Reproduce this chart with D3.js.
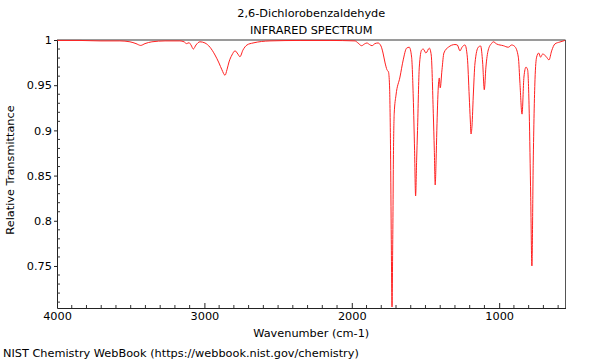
<!DOCTYPE html>
<html>
<head>
<meta charset="utf-8">
<script src="https://cdn.jsdelivr.net/npm/d3@7"></script>
<style>
  html, body { margin: 0; padding: 0; background: #fff; }
  svg { display: block; font-family: "DejaVu Sans", sans-serif; }
</style>
</head>
<body>
<svg id="chart" width="600" height="360"></svg>
<script>
// Wavenumber (cm-1)
const wavenumbers = [4000,3844,3708,3573,3505,3464,3432,3403,3356,3267,3166,3138,3121,3104,3091,3075,3057,3030,2996,2962,2928,2901,2881,2860,2847,2833,2813,2792,2773,2759,2738,2711,2670,2555,2351,2148,1978,1958,1933,1914,1897,1880,1863,1843,1822,1802,1788,1774,1761,1751,1744,1737,1732,1727,1722,1717,1712,1700,1673,1651,1628,1610,1594,1583,1574,1567,1560,1554,1542,1526,1515,1497,1474,1461,1447,1440,1434,1428,1423,1413,1406,1400,1388,1375,1345,1300,1284,1266,1252,1232,1216,1203,1196,1191,1184,1176,1164,1142,1126,1112,1101,1090,1074,1051,1040,1017,972,938,915,893,870,859,845,832,818,807,796,786,778,769,757,746,732,719,705,683,662,644,622,588,554];
// Relative transmittance at each wavenumber
const transmittance = [0.9995,0.9995,0.999,0.999,0.998,0.996,0.994,0.996,0.998,0.999,0.999,0.998,0.996,0.997,0.9945,0.990,0.9945,0.998,0.9967,0.992,0.9834,0.9746,0.967,0.961,0.967,0.9757,0.9834,0.988,0.9845,0.9815,0.989,0.9945,0.9967,0.999,0.9995,0.9995,0.999,0.9967,0.9937,0.9956,0.9967,0.995,0.9937,0.996,0.9967,0.9934,0.9856,0.9746,0.967,0.9646,0.950,0.878,0.779,0.7046,0.779,0.878,0.919,0.939,0.959,0.978,0.991,0.992,0.981,0.937,0.878,0.8274,0.867,0.900,0.970,0.989,0.990,0.9856,0.991,0.9834,0.919,0.878,0.8396,0.867,0.900,0.948,0.958,0.947,0.967,0.9856,0.992,0.995,0.9945,0.988,0.992,0.9945,0.981,0.937,0.9115,0.896,0.906,0.937,0.9746,0.992,0.9934,0.9746,0.945,0.970,0.989,0.9963,0.998,0.9956,0.9937,0.992,0.9945,0.9926,0.981,0.952,0.918,0.959,0.970,0.967,0.919,0.826,0.750,0.864,0.956,0.981,0.9856,0.981,0.9845,0.982,0.978,0.988,0.9956,0.9978,0.9995];

const xMajorTicks = [4000, 3000, 2000, 1000];
const yMajorTicks = [0.75, 0.8, 0.85, 0.9, 0.95, 1];

const titleLines = ["2,6-Dichlorobenzaldehyde", "INFRARED SPECTRUM"];
const xLabel = "Wavenumber (cm-1)";
const yLabel = "Relative Transmittance";
const footer = "NIST Chemistry WebBook (https://webbook.nist.gov/chemistry)";

const FS = 11.3;
const svg = d3.select("#chart");
const mLeft = 57, mRight = 565.5, mTop = 40, mBottom = 308;

const x = d3.scaleLinear().domain([4000, 550]).range([mLeft, mRight]);
const y = d3.scaleLinear().domain([0.7035, 1]).range([mBottom, mTop]);

const data = wavenumbers.map((w, i) => ({ w, t: transmittance[i] }));

svg.append("clipPath").attr("id", "clip")
  .append("rect").attr("x", mLeft).attr("y", mTop - 1).attr("width", mRight - mLeft).attr("height", mBottom - mTop + 1);

// frame top & right (gray)
svg.append("line").attr("x1", mLeft).attr("x2", mRight).attr("y1", mTop).attr("y2", mTop)
  .attr("stroke", "#9a9a9a").attr("stroke-width", 2);
svg.append("line").attr("x1", mRight).attr("x2", mRight).attr("y1", mTop).attr("y2", mBottom)
  .attr("stroke", "#555").attr("stroke-width", 1);

// spectrum line
svg.append("path")
  .datum(data)
  .attr("clip-path", "url(#clip)")
  .attr("fill", "none")
  .attr("stroke", "#ff2020")
  .attr("stroke-width", 1)
  .attr("d", d3.line().x(d => x(d.w)).y(d => y(d.t)).curve(d3.curveMonotoneX));

// x axis (ticks inside)
const xMinor = d3.range(3900, 549, -100).filter(v => !xMajorTicks.includes(v));
const gx = svg.append("g").attr("transform", `translate(0,${mBottom})`);
gx.call(d3.axisBottom(x).tickValues(xMajorTicks).tickSizeInner(-5).tickSizeOuter(0).tickPadding(4).tickFormat(d3.format("d")));
gx.selectAll(".minor").data(xMinor).enter().append("line")
  .attr("class", "minor")
  .attr("x1", d => x(d)).attr("x2", d => x(d)).attr("y1", 0).attr("y2", -3)
  .attr("stroke", "#333");
gx.select(".domain").attr("stroke", "#222");
gx.selectAll(".tick line").attr("stroke", "#222");
gx.selectAll("text").attr("font-size", FS).attr("fill", "#000").attr("font-family", "DejaVu Sans");

// y axis
const yMinor = d3.range(71, 100).map(v => v / 100).filter(v => !yMajorTicks.some(m => Math.abs(m - v) < 1e-9));
const gy = svg.append("g").attr("transform", `translate(${mLeft},0)`);
gy.call(d3.axisLeft(y).tickValues(yMajorTicks).tickSizeInner(3).tickSizeOuter(0).tickPadding(2).tickFormat(d => String(d)));
gy.selectAll(".minor").data(yMinor).enter().append("line")
  .attr("class", "minor")
  .attr("x1", 0).attr("x2", 3).attr("y1", d => y(d)).attr("y2", d => y(d))
  .attr("stroke", "#333");
gy.select(".domain").attr("stroke", "#222");
gy.selectAll(".tick line").attr("stroke", "#222");
gy.selectAll("text").attr("font-size", FS).attr("fill", "#000").attr("font-family", "DejaVu Sans");

// titles
svg.selectAll(".title").data(titleLines).enter().append("text")
  .attr("class", "title")
  .attr("x", (mLeft + mRight) / 2).attr("y", (d, i) => 17 + i * 17)
  .attr("text-anchor", "middle").attr("font-size", FS).attr("fill", "#000")
  .text(d => d);

svg.append("text").attr("x", (mLeft + mRight) / 2).attr("y", 337)
  .attr("text-anchor", "middle").attr("font-size", FS).text(xLabel);

svg.append("text").attr("transform", `translate(14,170) rotate(-90)`)
  .attr("text-anchor", "middle").attr("font-size", FS).text(yLabel);

svg.append("text").attr("x", 3).attr("y", 357).attr("font-size", FS).text(footer);
</script>
</body>
</html>
